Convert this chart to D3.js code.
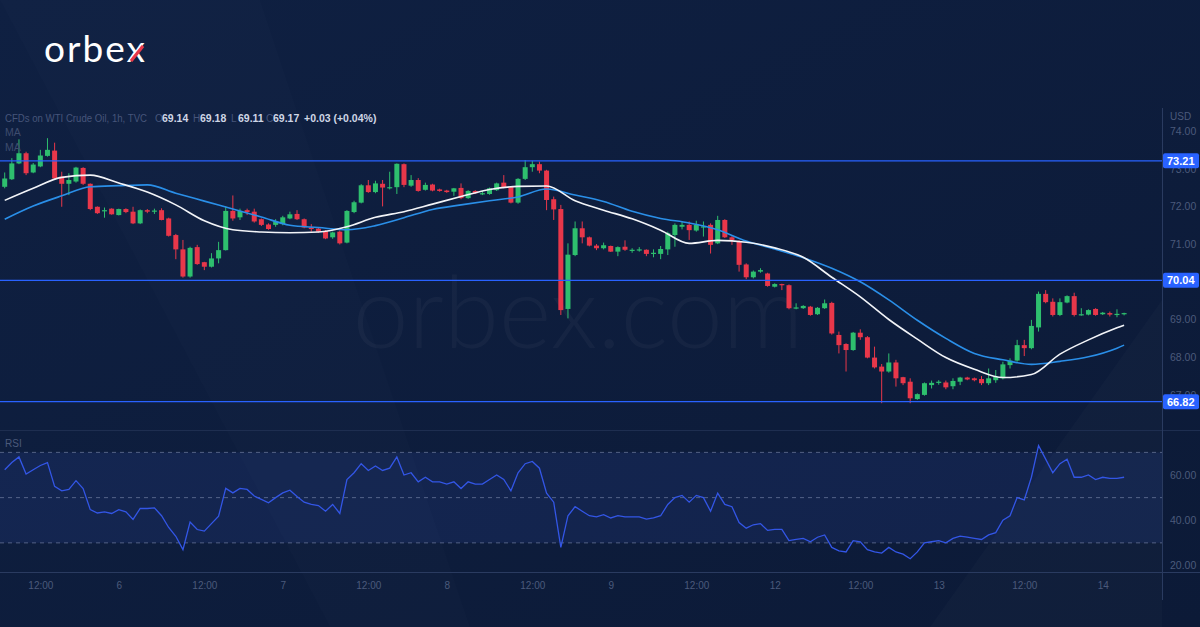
<!DOCTYPE html>
<html>
<head>
<meta charset="utf-8">
<script src="https://cdn.jsdelivr.net/npm/d3@7"></script>
<style>
  body { margin: 0; background: #0d1c3a; }
  svg { display: block; }
  text { font-family: "Liberation Sans", Arial, sans-serif; }
</style>
</head>
<body>
<svg id="chart" width="1200" height="627"></svg>
<script>
// hourly candles, WTI crude
var open = [72.52,72.72,73.14,73.41,72.90,73.06,73.34,73.48,72.79,72.60,72.66,73.02,72.60,71.99,71.88,71.94,71.77,71.93,71.86,71.55,
  71.90,71.88,71.90,71.68,71.24,70.86,70.14,70.92,70.52,70.40,70.62,70.84,71.88,71.71,71.90,71.86,71.66,71.52,71.51,71.53,
  71.68,71.80,71.66,71.44,71.41,71.35,71.18,71.33,71.04,71.85,72.10,72.56,72.38,72.60,72.50,72.51,73.12,72.55,72.70,72.44,
  72.58,72.45,72.42,72.39,72.49,72.22,72.41,72.34,72.33,72.43,72.63,72.52,72.10,72.73,73.04,73.12,72.95,72.19,71.93,69.28,
  70.71,71.42,71.18,70.96,70.89,70.95,70.80,70.93,70.84,70.85,70.85,70.76,70.74,70.86,71.24,71.46,71.51,71.36,71.46,71.51,
  71.02,71.64,71.18,71.08,70.46,70.12,70.27,70.22,69.87,69.94,69.91,69.31,69.30,69.34,69.14,69.30,69.44,68.59,68.35,68.19,
  68.65,68.53,67.99,67.75,67.62,67.86,67.47,67.35,66.89,67.00,67.26,67.32,67.33,67.23,67.35,67.46,67.44,67.42,67.31,67.39,
  67.44,67.79,67.91,68.32,68.24,68.79,69.68,69.47,69.12,69.45,69.62,69.12,69.13,69.28,69.14,69.17,69.14,69.14];
var high = [72.90,73.28,73.78,73.45,73.15,73.50,73.81,73.69,72.92,72.88,73.05,73.04,72.61,72.00,71.97,71.95,71.94,71.95,71.99,71.92,
  71.93,71.94,71.95,71.70,71.27,71.11,70.93,70.98,70.53,70.76,71.06,72.00,72.29,71.94,71.94,71.94,71.68,71.55,71.66,71.75,
  71.86,71.90,71.68,71.53,71.43,71.37,71.33,71.36,71.90,72.15,72.59,72.70,72.68,72.70,72.92,73.14,73.14,72.83,72.75,72.63,
  72.60,72.47,72.44,72.49,72.61,72.43,72.43,72.41,72.50,72.63,72.83,72.54,72.75,73.23,73.21,73.19,72.97,72.26,72.04,71.02,
  71.60,71.60,71.20,71.00,71.04,70.96,70.94,71.10,70.89,70.92,70.86,70.86,70.95,71.33,71.55,71.60,71.60,71.62,71.60,71.55,
  71.75,71.66,71.21,71.10,70.49,70.30,70.36,70.24,69.96,69.95,69.93,69.43,69.38,69.36,69.33,69.53,69.47,68.68,68.37,68.67,
  68.74,68.56,68.28,67.82,68.10,67.93,67.48,67.44,67.04,67.33,67.38,67.39,67.38,67.44,67.48,67.48,67.46,67.50,67.70,67.66,
  67.88,67.97,68.46,68.46,68.99,69.74,69.78,69.56,69.56,69.64,69.71,69.30,69.27,69.30,69.20,69.21,69.27,69.18];
var low = [72.48,72.70,73.12,72.83,72.88,73.04,73.32,72.72,71.99,72.30,72.63,72.57,71.90,71.80,71.70,71.78,71.76,71.82,71.53,71.53,
  71.82,71.80,71.63,71.20,70.60,70.11,70.11,70.45,70.31,70.38,70.49,70.83,71.62,71.64,71.77,71.57,71.48,71.38,71.46,71.50,
  71.66,71.64,71.42,71.33,71.30,71.13,71.14,70.99,71.02,71.82,72.08,72.36,72.35,72.00,72.45,72.33,72.51,72.52,72.39,72.42,
  72.40,72.39,72.36,72.28,72.19,72.20,72.33,72.30,72.31,72.41,72.48,72.08,72.07,72.70,72.92,72.88,71.90,71.64,69.12,69.03,
  70.68,71.02,70.94,70.84,70.86,70.79,70.68,70.82,70.77,70.80,70.68,70.65,70.60,70.71,70.93,71.39,71.11,71.33,71.20,70.75,
  71.00,71.16,70.98,70.27,70.07,70.09,70.24,69.87,69.85,69.78,69.27,69.27,69.28,69.10,69.12,69.28,68.60,68.10,67.62,68.17,
  68.46,67.97,67.70,66.78,67.59,67.22,67.26,66.78,66.87,66.98,67.17,67.27,67.15,67.15,67.26,67.39,67.36,67.26,67.26,67.32,
  67.41,67.70,67.88,68.03,68.21,68.68,69.43,69.08,69.09,69.43,69.08,69.10,69.11,69.10,69.12,69.08,69.06,69.11];
var close = [72.74,73.14,73.41,72.88,73.11,73.35,73.50,72.74,72.60,72.70,73.03,72.60,71.93,71.82,71.90,71.79,71.93,71.85,71.55,71.90,
  71.86,71.89,71.64,71.22,70.86,70.14,70.90,70.47,70.40,70.62,70.84,71.88,71.68,71.88,71.85,71.60,71.51,71.40,71.60,71.71,
  71.79,71.66,71.44,71.40,71.33,71.15,71.31,71.02,71.88,72.11,72.56,72.38,72.61,72.50,72.51,73.13,72.57,72.70,72.41,72.57,
  72.42,72.41,72.38,72.48,72.22,72.41,72.35,72.35,72.48,72.61,72.51,72.10,72.73,73.04,73.12,72.95,72.17,71.92,69.25,70.72,
  71.42,71.18,70.96,70.89,70.97,70.80,70.92,70.85,70.85,70.86,70.74,70.77,70.87,71.29,71.51,71.51,71.37,71.51,71.47,70.98,
  71.64,71.18,71.11,70.45,70.12,70.27,70.31,69.89,69.94,69.91,69.30,69.32,69.36,69.12,69.31,69.43,68.63,68.32,68.19,68.65,
  68.53,67.99,67.73,67.62,67.86,67.44,67.31,66.91,67.02,67.31,67.32,67.35,67.20,67.37,67.46,67.41,67.39,67.31,67.44,67.48,
  67.81,67.91,68.32,68.24,68.83,69.68,69.46,69.12,69.46,69.62,69.12,69.14,69.25,69.12,69.18,69.13,69.15,69.17];

// moving averages, sampled every few bars
var maBars = [0,4,8,12,16,20,24,28,32,36,40,44,48,52,56,60,64,68,72,76,80,84,88,92,96,100,104,108,112,116,120,124,128,132,136,140,144,148,152,156,157];
var maFast = [72.16,72.48,72.77,72.83,72.62,72.38,72.04,71.62,71.38,71.32,71.30,71.32,71.46,71.71,71.86,72.06,72.26,72.45,72.53,72.54,72.15,71.90,71.67,71.37,71.02,71.10,71.05,70.90,70.65,70.12,69.60,69.00,68.48,67.99,67.68,67.46,67.54,68.08,68.46,68.78,68.85];
var maSlow = [71.66,72.01,72.28,72.52,72.55,72.57,72.35,72.14,71.93,71.72,71.50,71.44,71.38,71.49,71.70,71.92,72.04,72.15,72.25,72.46,72.30,72.13,71.87,71.68,71.56,71.38,71.08,70.87,70.64,70.36,70.00,69.52,68.98,68.50,68.10,67.93,67.81,67.89,68.01,68.24,68.32];

// RSI per bar
var rsi = [62.3,65.5,68.0,60.4,62.3,64.2,65.5,55.0,53.0,53.6,57.5,54.0,44.7,43.2,43.7,43.0,44.7,43.7,40.4,45.2,
  45.2,45.5,42.0,36.8,32.9,27.0,39.2,35.9,35.2,38.5,41.8,54.1,52.1,54.1,53.6,50.7,49.2,47.7,50.0,52.1,
  53.3,50.5,48.0,47.0,46.5,44.0,47.0,43.0,58.0,61.0,65.0,62.0,64.0,62.0,63.0,68.0,60.0,61.0,57.0,59.0,
  57.0,57.0,56.0,57.0,54.0,57.0,56.0,56.0,58.0,60.0,58.0,53.0,61.0,65.0,66.0,63.0,52.0,48.0,28.0,42.0,
  46.0,44.0,42.0,41.5,42.5,41.0,42.0,41.5,41.5,41.5,40.5,41.0,42.0,47.0,50.0,51.0,48.0,51.0,50.0,44.0,
  52.0,47.0,46.0,39.0,36.5,38.0,38.5,35.5,36.0,36.0,31.0,31.5,32.0,30.5,32.5,33.5,28.0,26.5,26.0,31.0,
  30.5,27.0,26.0,25.5,28.0,26.0,25.0,23.0,26.0,30.0,30.5,31.0,30.0,32.0,33.0,32.5,32.0,31.5,33.5,34.5,
  40.0,42.0,50.0,49.0,59.0,73.0,67.0,61.0,65.0,67.0,59.0,59.0,60.0,58.0,59.0,58.5,58.5,59.0];

var levels = [73.21, 70.04, 66.82];
var priceTicks = [67, 68, 69, 70, 71, 72, 73, 74];
var rsiTicks = [20, 40, 60];
var rsiBands = [70, 50, 30];
var timeTicks = [5, 16, 28, 39, 51, 62, 74, 85, 97, 108, 120, 131, 143, 154];
var timeLabels = ["12:00","6","12:00","7","12:00","8","12:00","9","12:00","12","12:00","13","12:00","14"];

var UP = "#2ebf6e", DOWN = "#e8374a", LEVEL = "#2962ff";
var dim = "#4b5a7b";

var svg = d3.select("#chart");
var W = 1200, H = 627, axisX = 1162;

var x = d3.scaleLinear().domain([0, 157]).range([4.7, 1124.1]);
var y = d3.scaleLinear().domain([67, 74]).range([394.9, 131]);
var yr = d3.scaleLinear().domain([20, 60]).range([565.5, 475]);

// background
var defs = svg.append("defs");
var bg = defs.append("linearGradient").attr("id", "bg").attr("x1", 0).attr("y1", 0).attr("x2", 1).attr("y2", 1);
bg.append("stop").attr("offset", "0%").attr("stop-color", "#0f2042");
bg.append("stop").attr("offset", "100%").attr("stop-color", "#0c1a37");
svg.append("rect").attr("width", W).attr("height", H).attr("fill", "url(#bg)");

// faint diagonal streaks
svg.append("path").attr("d", "M0,0 L260,0 L470,627 L330,627 Z").attr("fill", "#ffffff").attr("opacity", 0.012);
svg.append("path").attr("d", "M930,627 L1162,300 L1162,627 Z").attr("fill", "#ffffff").attr("opacity", 0.02);

defs.append("clipPath").attr("id", "mainClip").append("rect").attr("x", 0).attr("y", 108).attr("width", axisX).attr("height", 322);
defs.append("clipPath").attr("id", "rsiClip").append("rect").attr("x", 0).attr("y", 430).attr("width", axisX).attr("height", 142);

// logo
svg.append("text").attr("x", 44).attr("y", 62)
    .style("font-family", "Lato, 'Open Sans', sans-serif").style("font-size", "37px")
    .style("letter-spacing", "2px").attr("fill", "#ffffff").text("orbex");
svg.append("line").attr("x1", 131).attr("y1", 61).attr("x2", 143).attr("y2", 46)
    .attr("stroke", DOWN).attr("stroke-width", 3.2);

// watermark
svg.append("text").attr("x", 578).attr("y", 348).attr("text-anchor", "middle")
    .style("font-family", "Lato, 'Open Sans', sans-serif").style("font-size", "100px").style("font-weight", 300)
    .attr("fill", "#ffffff").attr("opacity", 0.03).text("orbex.com");

// pane separators
svg.append("line").attr("x1", 0).attr("x2", W).attr("y1", 430.5).attr("y2", 430.5).attr("stroke", "#1e2e50");
svg.append("line").attr("x1", 0).attr("x2", W).attr("y1", 572.5).attr("y2", 572.5).attr("stroke", "#2a3b60");
svg.append("line").attr("x1", axisX + 0.5).attr("x2", axisX + 0.5).attr("y1", 108).attr("y2", 600).attr("stroke", "#2a3b60");

// RSI pane
var rp = svg.append("g").attr("clip-path", "url(#rsiClip)");
rp.append("rect").attr("x", 0).attr("width", axisX).attr("y", yr(70)).attr("height", yr(30) - yr(70))
    .attr("fill", "#3a5bd0").attr("opacity", 0.13);
rp.selectAll(".band").data(rsiBands).enter().append("line")
    .attr("x1", 0).attr("x2", axisX).attr("y1", function(d) { return yr(d); }).attr("y2", function(d) { return yr(d); })
    .attr("stroke", "#8a97b8").attr("stroke-opacity", 0.55).attr("stroke-dasharray", "4,4");
rp.append("path").datum(rsi)
    .attr("fill", "none").attr("stroke", "#3356e6").attr("stroke-width", 1.3)
    .attr("d", d3.line().x(function(d, i) { return x(i); }).y(function(d) { return yr(d); }));
svg.append("text").attr("x", 5).attr("y", 447).attr("fill", dim).style("font-size", "10px").text("RSI");

// main pane
var mp = svg.append("g").attr("clip-path", "url(#mainClip)");

var candles = mp.selectAll(".candle").data(close).enter().append("g").attr("class", "candle");
candles.append("line")
    .attr("x1", function(d, i) { return x(i); }).attr("x2", function(d, i) { return x(i); })
    .attr("y1", function(d, i) { return y(high[i]); }).attr("y2", function(d, i) { return y(low[i]); })
    .attr("stroke", function(d, i) { return d >= open[i] ? UP : DOWN; }).attr("stroke-width", 1);
candles.append("rect")
    .attr("x", function(d, i) { return x(i) - 2.5; }).attr("width", 5)
    .attr("y", function(d, i) { return y(Math.max(d, open[i])); })
    .attr("height", function(d, i) { return Math.max(1.2, Math.abs(y(d) - y(open[i]))); })
    .attr("fill", function(d, i) { return d >= open[i] ? UP : DOWN; });

var maLine = function(vals) {
  return d3.line().curve(d3.curveMonotoneX)
    .x(function(d, i) { return x(maBars[i]); }).y(function(d) { return y(d); })(vals);
};
mp.append("path").attr("d", maLine(maSlow)).attr("fill", "none").attr("stroke", "#2a8fe8").attr("stroke-width", 1.6);
mp.append("path").attr("d", maLine(maFast)).attr("fill", "none").attr("stroke", "#f2f4f8").attr("stroke-width", 1.6);

mp.selectAll(".level").data(levels).enter().append("line")
    .attr("x1", 0).attr("x2", axisX).attr("y1", function(d) { return y(d); }).attr("y2", function(d) { return y(d); })
    .attr("stroke", LEVEL).attr("stroke-width", 1.2);

// header texts
svg.append("text").attr("x", 5).attr("y", 122).attr("fill", "#46557a").style("font-size", "10px")
    .attr("textLength", 142).attr("lengthAdjust", "spacingAndGlyphs")
    .text("CFDs on WTI Crude Oil, 1h, TVC");
var ohlc = [["O", "69.14", 155], ["H", "69.18", 193], ["L", "69.11", 231], ["C", "69.17", 266]];
ohlc.forEach(function(p) {
  svg.append("text").attr("x", p[2]).attr("y", 122).attr("fill", "#46557a").style("font-size", "10px").text(p[0]);
  svg.append("text").attr("x", p[2] + 7).attr("y", 122).attr("fill", "#cfd6e6").style("font-size", "10.5px")
      .style("font-weight", "bold").text(p[1]);
});
svg.append("text").attr("x", 304).attr("y", 122).attr("fill", "#cfd6e6").style("font-size", "10.5px")
    .style("font-weight", "bold").text("+0.03 (+0.04%)");
svg.append("text").attr("x", 5).attr("y", 136).attr("fill", "#3e4c6e").style("font-size", "10.5px").text("MA");
svg.append("text").attr("x", 5).attr("y", 151).attr("fill", "#3e4c6e").style("font-size", "10.5px").text("MA");

// price axis
var pAxis = svg.append("g").attr("transform", "translate(" + (axisX + 2) + ",0)")
    .call(d3.axisRight(y).tickValues(priceTicks).tickFormat(d3.format(".2f")).tickSize(0).tickPadding(6));
pAxis.select(".domain").remove();
pAxis.selectAll("text").attr("fill", dim).style("font-size", "10.5px");
svg.append("text").attr("x", 1170).attr("y", 120).attr("fill", dim).style("font-size", "10px").text("USD");

var rAxis = svg.append("g").attr("transform", "translate(" + (axisX + 2) + ",0)")
    .call(d3.axisRight(yr).tickValues(rsiTicks).tickFormat(d3.format(".2f")).tickSize(0).tickPadding(6));
rAxis.select(".domain").remove();
rAxis.selectAll("text").attr("fill", dim).style("font-size", "10.5px");

// level labels
var tags = svg.selectAll(".tag").data(levels).enter().append("g")
    .attr("transform", function(d) { return "translate(" + (axisX + 1) + "," + y(d) + ")"; });
tags.append("rect").attr("x", 0).attr("y", -7.5).attr("width", 36).attr("height", 15).attr("rx", 2).attr("fill", LEVEL);
tags.append("text").attr("x", 4).attr("y", 4).attr("fill", "#ffffff").style("font-size", "11px").style("font-weight", "bold")
    .text(function(d) { return d.toFixed(2); });

// time axis
var tAxis = svg.append("g").attr("transform", "translate(0,578)")
    .call(d3.axisBottom(x).tickValues(timeTicks).tickFormat(function(d, i) { return timeLabels[i]; }).tickSize(0).tickPadding(4));
tAxis.select(".domain").remove();
tAxis.selectAll("text").attr("fill", dim).style("font-size", "10px");
</script>
</body>
</html>
